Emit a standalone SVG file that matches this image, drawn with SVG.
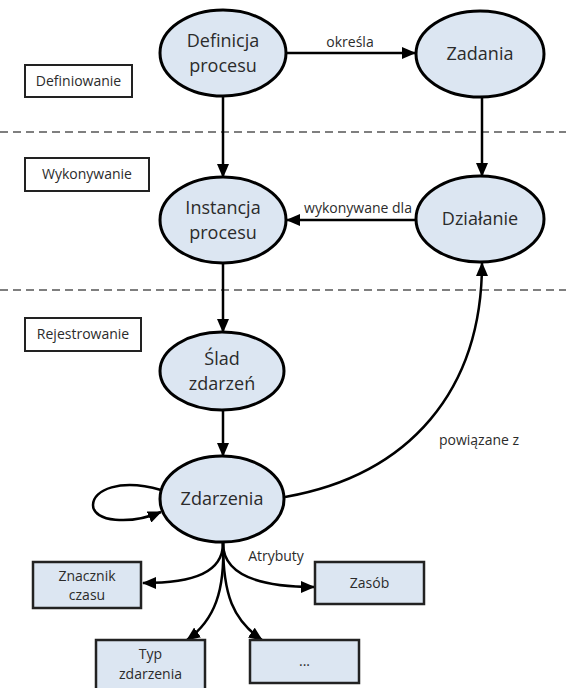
<svg xmlns="http://www.w3.org/2000/svg" width="566" height="688" viewBox="0 0 566 688">
<defs>
<marker id="arr" markerUnits="userSpaceOnUse" markerWidth="14" markerHeight="12" refX="13" refY="6" orient="auto">
<path d="M0,0 L14,6 L0,12 Z" fill="#000"/>
</marker>
<style>
.ell{fill:#dce6f2;stroke:#000;stroke-width:3}
.box{fill:#dce6f2;stroke:#222;stroke-width:2.5}
.lbl{fill:#fff;stroke:#222;stroke-width:2}
.t{font-family:"Open Sans","Liberation Sans",sans-serif;fill:#2b2b2b;text-anchor:middle}
.big{font-size:18px}
.sm{font-size:14px}
.edge{fill:none;stroke:#000;stroke-width:2.5}
.dash{stroke:#555;stroke-width:1.5;stroke-dasharray:8 5}
</style>
</defs>
<rect width="566" height="688" fill="#fff"/>
<line class="dash" x1="0" y1="132" x2="566" y2="132"/>
<line class="dash" x1="0" y1="290" x2="566" y2="290"/>
<g id="phase-def"><rect class="lbl" x="25" y="65" width="107" height="32"/><text class="t sm" x="78.5" y="86">Definiowanie</text></g>
<g id="phase-exec"><rect class="lbl" x="25" y="158" width="124" height="33"/><text class="t sm" x="87" y="179">Wykonywanie</text></g>
<g id="phase-reg"><rect class="lbl" x="25" y="318" width="116" height="33"/><text class="t sm" x="83" y="339">Rejestrowanie</text></g>
<g id="connectors">
<line class="edge" x1="287" y1="53" x2="415" y2="53" marker-end="url(#arr)"/>
<line class="edge" x1="223" y1="96" x2="223" y2="177" marker-end="url(#arr)"/>
<line class="edge" x1="482" y1="97" x2="482" y2="176" marker-end="url(#arr)"/>
<line class="edge" x1="416" y1="220" x2="287" y2="220" marker-end="url(#arr)"/>
<line class="edge" x1="223" y1="263" x2="223" y2="332" marker-end="url(#arr)"/>
<line class="edge" x1="223" y1="410" x2="223" y2="456" marker-end="url(#arr)"/>
<path class="edge" d="M285,497 C410,475 482,390 482,263" marker-end="url(#arr)"/>
<path class="edge" d="M161,490 C120,478 93,490 93,505 C93,522 130,525 161,512" marker-end="url(#arr)"/>
<path class="edge" d="M223,543 C223,572 195,583 143,583" marker-end="url(#arr)"/>
<path class="edge" d="M223,543 C223,575 260,587 314,587" marker-end="url(#arr)"/>
<path class="edge" d="M223,543 C225,590 215,620 187,640" marker-end="url(#arr)"/>
<path class="edge" d="M223,543 C223,595 233,620 262,640" marker-end="url(#arr)"/>
<text class="t sm" x="350" y="47">określa</text>
<text class="t sm" x="358" y="213">wykonywane dla</text>
<text class="t sm" x="479" y="445">powiązane z</text>
<text class="t sm" x="276" y="561">Atrybuty</text>
</g>
<g id="definicja"><ellipse class="ell" cx="223" cy="53" rx="63" ry="43"/><text class="t big" x="223" y="47">Definicja</text><text class="t big" x="223" y="72">procesu</text></g>
<g id="zadania"><ellipse class="ell" cx="480" cy="54" rx="64" ry="43"/><text class="t big" x="480" y="60">Zadania</text></g>
<g id="instancja"><ellipse class="ell" cx="223" cy="220" rx="63" ry="43"/><text class="t big" x="223" y="214">Instancja</text><text class="t big" x="223" y="239">procesu</text></g>
<g id="dzialanie"><ellipse class="ell" cx="480" cy="219" rx="64" ry="43"/><text class="t big" x="480" y="225">Działanie</text></g>
<g id="slad"><ellipse class="ell" cx="222" cy="371" rx="62" ry="39"/><text class="t big" x="222" y="365">Ślad</text><text class="t big" x="222" y="390">zdarzeń</text></g>
<g id="zdarzenia"><ellipse class="ell" cx="222" cy="499" rx="62" ry="43"/><text class="t big" x="222" y="505">Zdarzenia</text></g>
<g id="znacznik"><rect class="box" x="33" y="562" width="108" height="46"/><text class="t sm" x="87" y="581">Znacznik</text><text class="t sm" x="87" y="600">czasu</text></g>
<g id="zasob"><rect class="box" x="315" y="562" width="109" height="42"/><text class="t sm" x="369.5" y="588">Zasób</text></g>
<g id="typ"><rect class="box" x="96" y="640" width="109" height="60"/><text class="t sm" x="150.5" y="659">Typ</text><text class="t sm" x="150.5" y="679">zdarzenia</text></g>
<g id="inne"><rect class="box" x="250" y="640" width="109" height="43"/><text class="t sm" x="304.5" y="666">...</text></g>
</svg>
